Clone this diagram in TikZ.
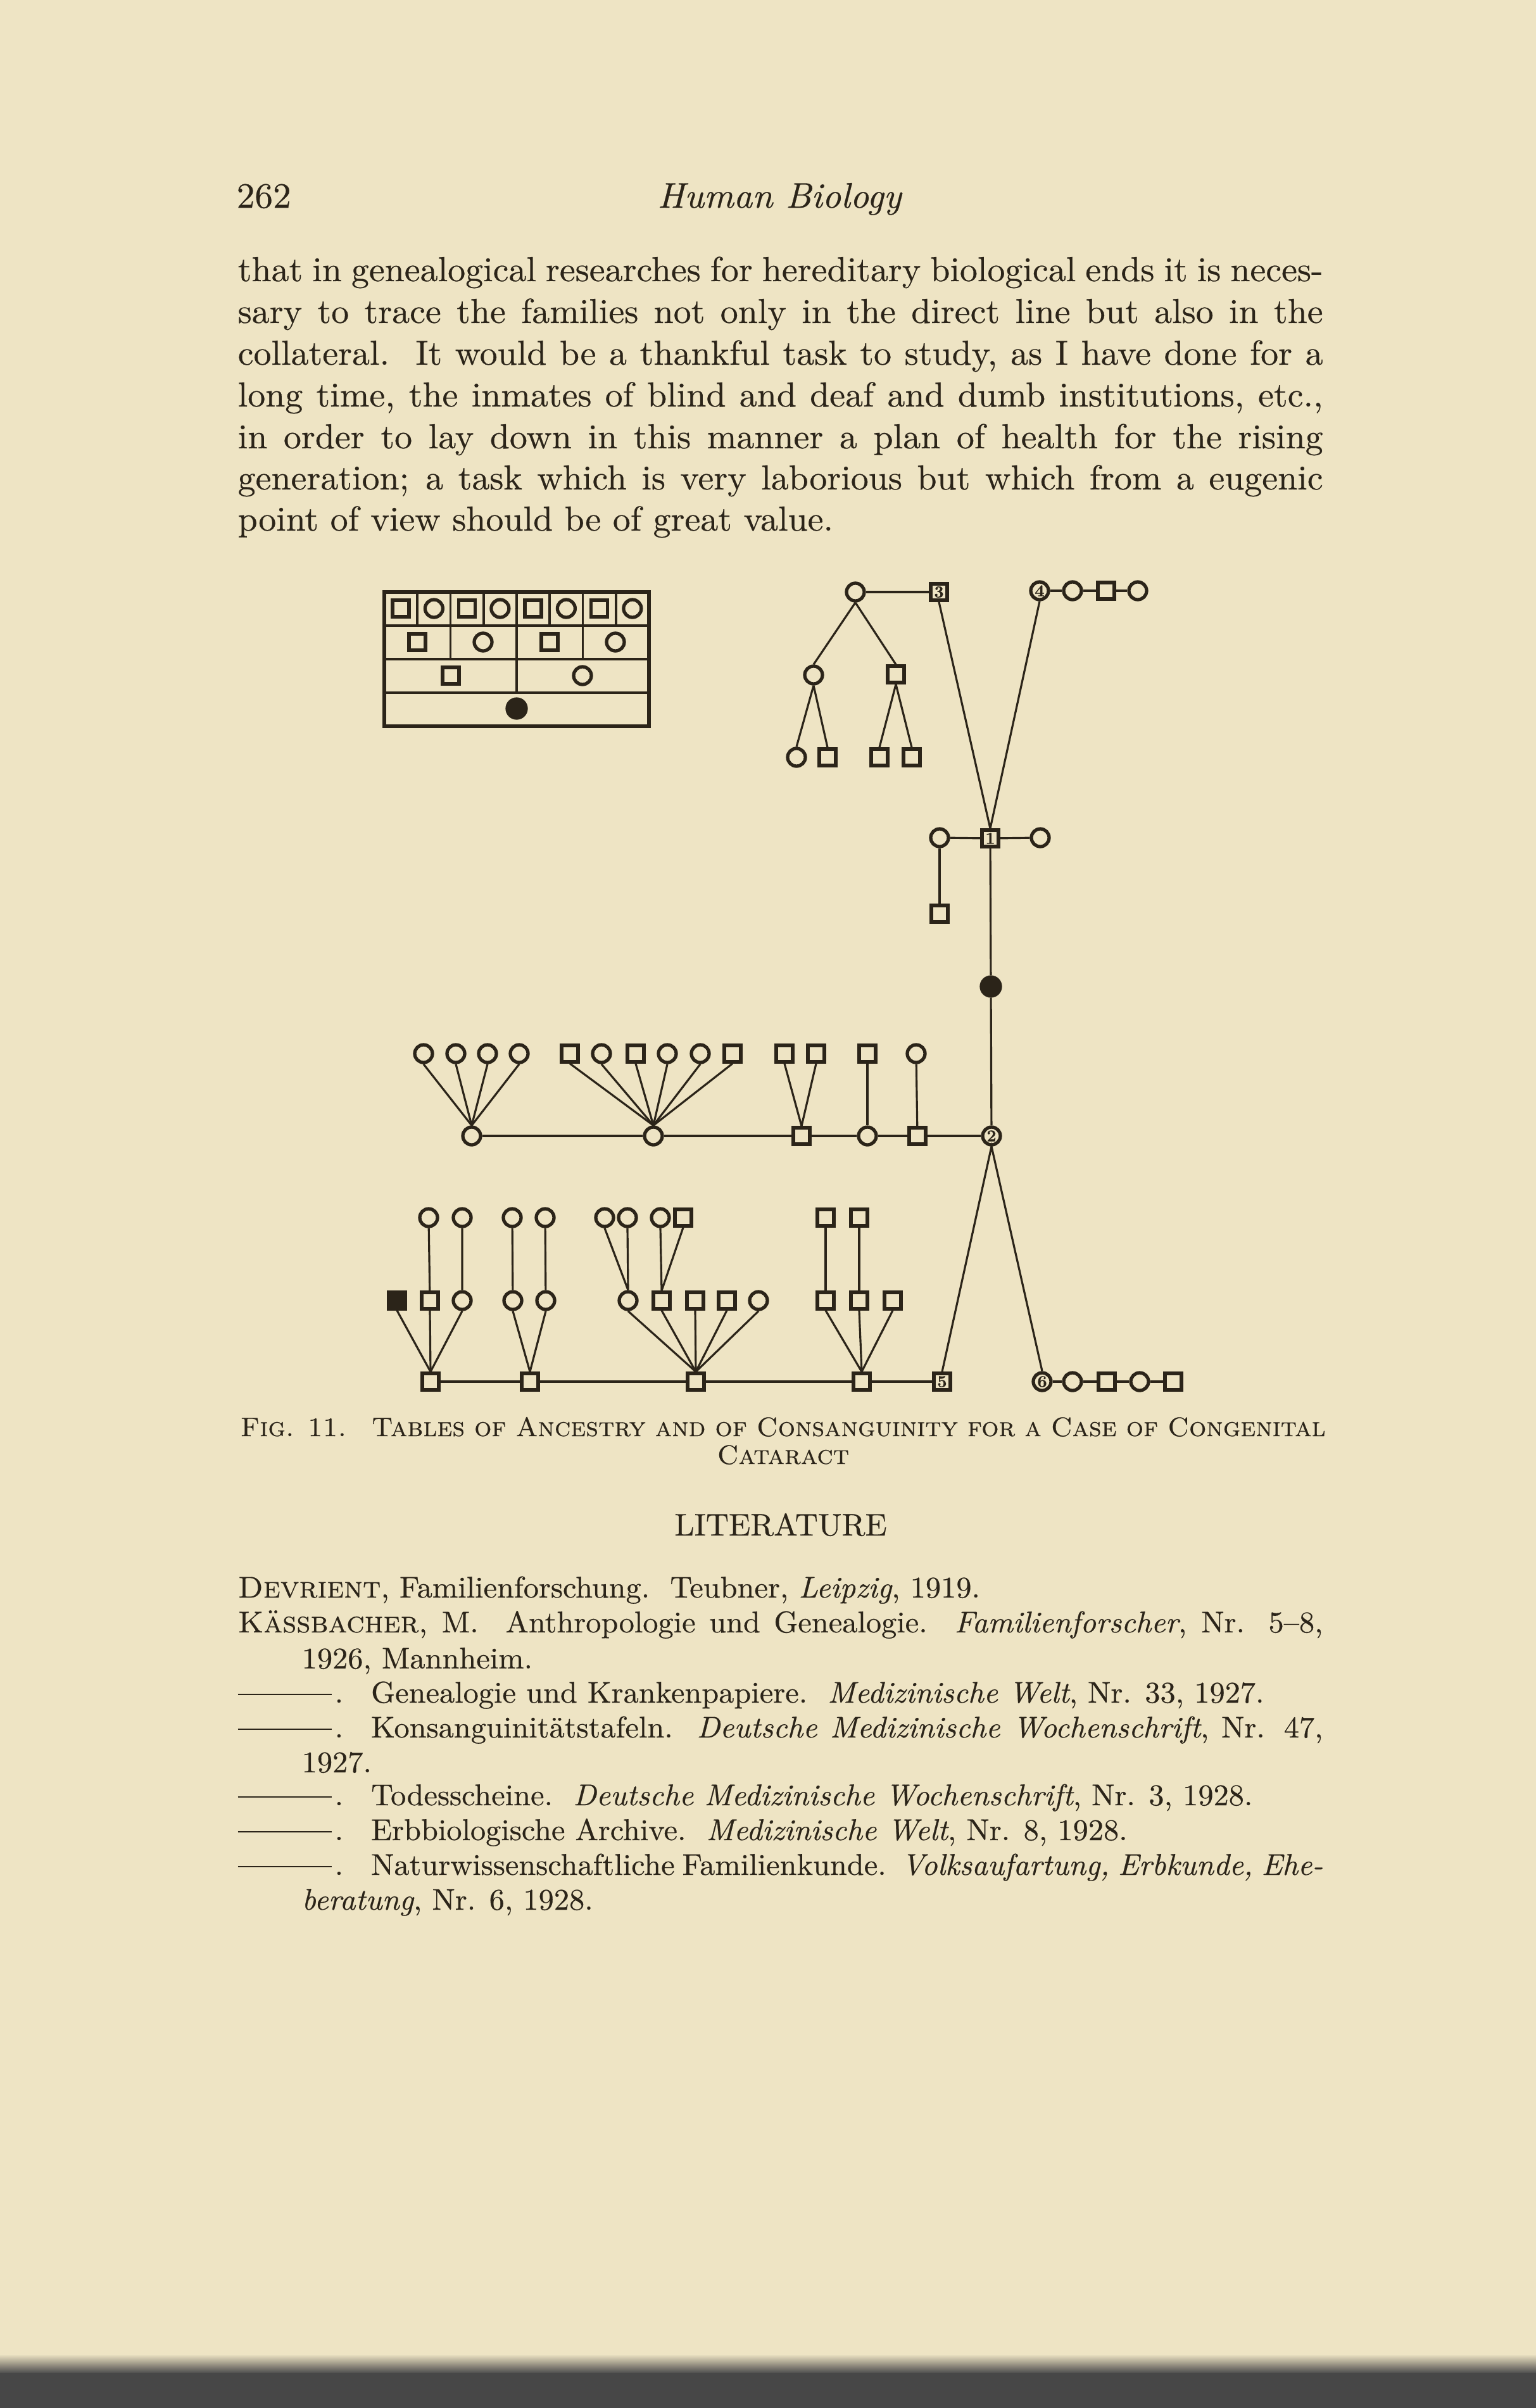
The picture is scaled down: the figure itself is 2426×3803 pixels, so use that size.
\documentclass[tikz,border=0pt]{standalone}
\usepackage{fontspec}
\setmainfont{lmroman10-regular.otf}[
  ItalicFont=lmroman10-italic.otf,
  BoldFont=lmroman10-bold.otf,
  SmallCapsFont=lmromancaps10-regular.otf,
  FakeStretch=1.02, FakeBold=0.45]
\definecolor{paper}{HTML}{EEE4C4}
\definecolor{ink}{HTML}{2B2419}
\newcommand\bodyf{\fontsize{15.6pt}{18.6pt}\selectfont}
\newcommand\headf{\fontsize{16pt}{19pt}\selectfont}
\newcommand\capf{\fontsize{12pt}{14pt}\selectfont}
\newcommand\litf{\fontsize{13.5pt}{16pt}\selectfont}
\newcommand\jl[1]{\makebox[171.4mm][s]{#1}}
\newcommand\rep{\makebox[15.3mm][l]{\rule[0.6ex]{14.8mm}{0.6pt}}.\hspace*{4.4mm}}
\begin{document}
\begin{tikzpicture}[x=0.1mm,y=-0.1mm,
  txt/.style={inner sep=0pt, anchor=base west, text=ink},
  sym/.style={draw=ink, line width=1.5pt, inner sep=0pt, fill=paper, text=ink,
              font=\fontsize{7.5pt}{7.5pt}\selectfont\bfseries},
  ci/.style={sym, circle, minimum size=2.8mm},
  sq/.style={sym, rectangle, minimum size=2.6mm},
  fci/.style={sym, circle, fill=ink, minimum size=3.0mm},
  fsq/.style={sym, rectangle, fill=ink, minimum size=2.6mm},
  con/.style={draw=ink, line width=0.9pt},
  grid/.style={draw=ink, line width=1.1pt}]
\useasboundingbox (0,0) rectangle (2426,3803);
\fill[paper] (0,0) rectangle (2426,3803);
\shade[top color=paper, bottom color=black!70] (0,3718) rectangle (2426,3748);
\fill[black!72] (0,3748) rectangle (2426,3803);

% ---------- running head and body text ----------
\node[txt] (pg) at (373,328) {\headf 262};
\node[txt, anchor=base] (rh) at (1231,328) {\headf\itshape Human Biology};
\node[txt] (l1) at (375,444) {\bodyf\jl{that in genealogical researches for hereditary biological ends it is neces-}};
\node[txt] (l2) at (375,510) {\bodyf\jl{sary to trace the families not only in the direct line but also in the}};
\node[txt] (l3) at (375,576) {\bodyf\jl{collateral.\ \ It would be a thankful task to study, as I have done for a}};
\node[txt] (l4) at (375,642) {\bodyf\jl{long time, the inmates of blind and deaf and dumb institutions, etc.,}};
\node[txt] (l5) at (375,708) {\bodyf\jl{in order to lay down in this manner a plan of health for the rising}};
\node[txt] (l6) at (375,773) {\bodyf\jl{generation; a task which is very laborious but which from a eugenic}};
\node[txt] (l7) at (375,838) {\bodyf point of view should be of great value.};

% ---------- table of ancestry ----------
\draw[ink, line width=1.8pt] (607,935) rectangle (1025,1147);
\draw[grid] (607,988) -- (1025,988) (607,1041) -- (1025,1041) (607,1094) -- (1025,1094);
\foreach \k in {1,...,7} \draw[grid] ({607+52.25*\k},935) -- ({607+52.25*\k},988);
\foreach \k in {1,2,3} \draw[grid] ({607+104.5*\k},988) -- ({607+104.5*\k},1041);
\draw[grid] (816,1041) -- (816,1094);
\foreach \k in {0,2,4,6} \node[sq] (ta\k) at ({607+52.25*(\k+0.5)},961) {};
\foreach \k in {1,3,5,7} \node[ci] (ta\k) at ({607+52.25*(\k+0.5)},961) {};
\node[sq] (tb0) at (659,1014) {};
\node[ci] (tb1) at (763,1014) {};
\node[sq] (tb2) at (868,1014) {};
\node[ci] (tb3) at (972,1014) {};
\node[sq] (tc0) at (712,1067) {};
\node[ci] (tc1) at (920,1067) {};
\node[fci] (td0) at (816,1119) {};

% ---------- table of consanguinity: upper part ----------
\node[ci] (A) at (1351,935) {};
\node[sq] (N3) at (1483,935) {3};
\node[ci] (A1) at (1285,1066) {};
\node[sq] (A2) at (1415,1065) {};
\node[ci] (A11) at (1258,1196) {};
\node[sq] (A12) at (1307,1196) {};
\node[sq] (A21) at (1389,1196) {};
\node[sq] (A22) at (1440,1196) {};
\node[ci] (N4) at (1642,933) {4};
\node[ci] (B1) at (1694,933) {};
\node[sq] (B2) at (1747,933) {};
\node[ci] (B3) at (1797,933) {};
\node[sq] (N1) at (1564,1324) {1};
\node[ci] (C1) at (1484,1323) {};
\node[ci] (C2) at (1643,1323) {};
\node[sq] (C11) at (1484,1443) {};
\node[fci] (D) at (1565,1558) {};
\node[ci] (N2) at (1566,1794) {2};

\draw[con] (A) -- (N3);
\draw[con] (A.south) -- (A1.north) (A.south) -- (A2.north);
\draw[con] (A1.south) -- (A11.north) (A1.south) -- (A12.north);
\draw[con] (A2.south) -- (A21.north) (A2.south) -- (A22.north);
\draw[con] (N3.south) -- (N1.north) (N4.south) -- (N1.north);
\draw[con] (N4) -- (B1) -- (B2) -- (B3);
\draw[con] (C1) -- (N1) -- (C2);
\draw[con] (C1) -- (C11);
\draw[con] (N1) -- (D) -- (N2);

% ---------- middle row ----------
\node[ci] (E1) at (745,1794) {};
\node[ci] (E2) at (1032,1794) {};
\node[sq] (E3) at (1266,1794) {};
\node[ci] (E4) at (1370,1794) {};
\node[sq] (E5) at (1449,1794) {};
\draw[con] (E1) -- (E2) -- (E3) -- (E4) -- (E5) -- (N2);
\foreach \x [count=\i] in {669,720,770,820} {
  \node[ci] (e1\i) at (\x,1664) {};
  \draw[con] (e1\i.south) -- (E1.north);
}
\node[sq] (e21) at (900,1664) {};
\node[ci] (e22) at (950,1664) {};
\node[sq] (e23) at (1004,1664) {};
\node[ci] (e24) at (1054,1664) {};
\node[ci] (e25) at (1106,1664) {};
\node[sq] (e26) at (1157,1664) {};
\foreach \i in {1,...,6} \draw[con] (e2\i.south) -- (E2.north);
\node[sq] (e31) at (1239,1664) {};
\node[sq] (e32) at (1289,1664) {};
\draw[con] (e31.south) -- (E3.north) (e32.south) -- (E3.north);
\node[sq] (e41) at (1370,1664) {};
\draw[con] (e41) -- (E4);
\node[ci] (e51) at (1447,1664) {};
\draw[con] (e51) -- (E5);

% ---------- lower part ----------
\node[sq] (F1) at (680,2182) {};
\node[sq] (F2) at (837,2182) {};
\node[sq] (F3) at (1099,2182) {};
\node[sq] (F4) at (1361,2182) {};
\node[sq] (N5) at (1488,2182) {5};
\node[ci] (N6) at (1646,2182) {6};
\node[ci] (G1) at (1694,2182) {};
\node[sq] (G2) at (1748,2182) {};
\node[ci] (G3) at (1800,2182) {};
\node[sq] (G4) at (1853,2182) {};
\draw[con] (F1) -- (F2) -- (F3) -- (F4) -- (N5);
\draw[con] (N5.north) -- (N2.south) -- (N6.north);
\draw[con] (N6) -- (G1) -- (G2) -- (G3) -- (G4);

% generation above F
\node[fsq] (m1) at (627,2054) {};
\node[sq] (m2) at (679,2054) {};
\node[ci] (m3) at (730,2054) {};
\node[ci] (m4) at (810,2054) {};
\node[ci] (m5) at (862,2054) {};
\node[ci] (m6) at (992,2054) {};
\node[sq] (m7) at (1045,2054) {};
\node[sq] (m8) at (1098,2054) {};
\node[sq] (m9) at (1148,2054) {};
\node[ci] (m10) at (1198,2054) {};
\node[sq] (m11) at (1304,2054) {};
\node[sq] (m12) at (1357,2054) {};
\node[sq] (m13) at (1410,2054) {};
\foreach \i in {1,2,3} \draw[con] (m\i.south) -- (F1.north);
\foreach \i in {4,5} \draw[con] (m\i.south) -- (F2.north);
\foreach \i in {6,...,10} \draw[con] (m\i.south) -- (F3.north);
\foreach \i in {11,12,13} \draw[con] (m\i.south) -- (F4.north);

% top generation
\node[ci] (u1) at (677,1923) {};
\node[ci] (u2) at (730,1923) {};
\node[ci] (u3) at (809,1923) {};
\node[ci] (u4) at (861,1923) {};
\node[ci] (u5) at (955,1923) {};
\node[ci] (u6) at (991,1923) {};
\node[ci] (u7) at (1043,1923) {};
\node[sq] (u8) at (1079,1923) {};
\node[sq] (u9) at (1304,1923) {};
\node[sq] (u10) at (1357,1923) {};
\draw[con] (u1) -- (m2) (u2) -- (m3) (u3) -- (m4) (u4) -- (m5);
\draw[con] (u5.south) -- (m6.north) (u6.south) -- (m6.north);
\draw[con] (u7.south) -- (m7.north) (u8.south) -- (m7.north);
\draw[con] (u9) -- (m11) (u10) -- (m12);

% ---------- caption ----------
\node[txt] (cap1) at (379,2268) {\capf\jl{\textsc{Fig. 11.}\ \ \ \textsc{Tables of Ancestry and of Consanguinity for a Case of Congenital}}};
\node[txt, anchor=base] (cap2) at (1237,2312) {\capf\textsc{Cataract}};

% ---------- literature ----------
\node[txt, anchor=base] (lit) at (1233,2425) {\fontsize{14pt}{16pt}\selectfont LITERATURE};
\node[txt] (r1) at (375,2523) {\litf\textsc{Devrient}, Familienforschung.\ \ Teubner, \textit{Leipzig}, 1919.};
\node[txt] (r2) at (375,2578) {\litf\jl{\textsc{Kässbacher}, M.\ \ Anthropologie und Genealogie.\ \ \textit{Familienforscher}, Nr. 5--8,}};
\node[txt] (r3) at (476,2635) {\litf 1926, Mannheim.};
\node[txt] (r4) at (375,2689) {\litf\rep Genealogie und Krankenpapiere.\ \ \textit{Medizinische Welt}, Nr. 33, 1927.};
\node[txt] (r5) at (375,2744) {\litf\jl{\rep Konsanguinitätstafeln.\ \ \textit{Deutsche Medizinische Wochenschrift}, Nr. 47,}};
\node[txt] (r6) at (476,2799) {\litf 1927.};
\node[txt] (r7) at (375,2851) {\litf\rep Todesscheine.\ \ \textit{Deutsche Medizinische Wochenschrift}, Nr. 3, 1928.};
\node[txt] (r8) at (375,2906) {\litf\rep Erbbiologische Archive.\ \ \textit{Medizinische Welt}, Nr. 8, 1928.};
\node[txt] (r9) at (375,2961) {\litf\jl{\rep Naturwissenschaftliche Familienkunde.\ \ \textit{Volksaufartung, Erbkunde, Ehe-}}};
\node[txt] (r10) at (476,3016) {\litf\textit{beratung}, Nr. 6, 1928.};
\end{tikzpicture}
\end{document}
